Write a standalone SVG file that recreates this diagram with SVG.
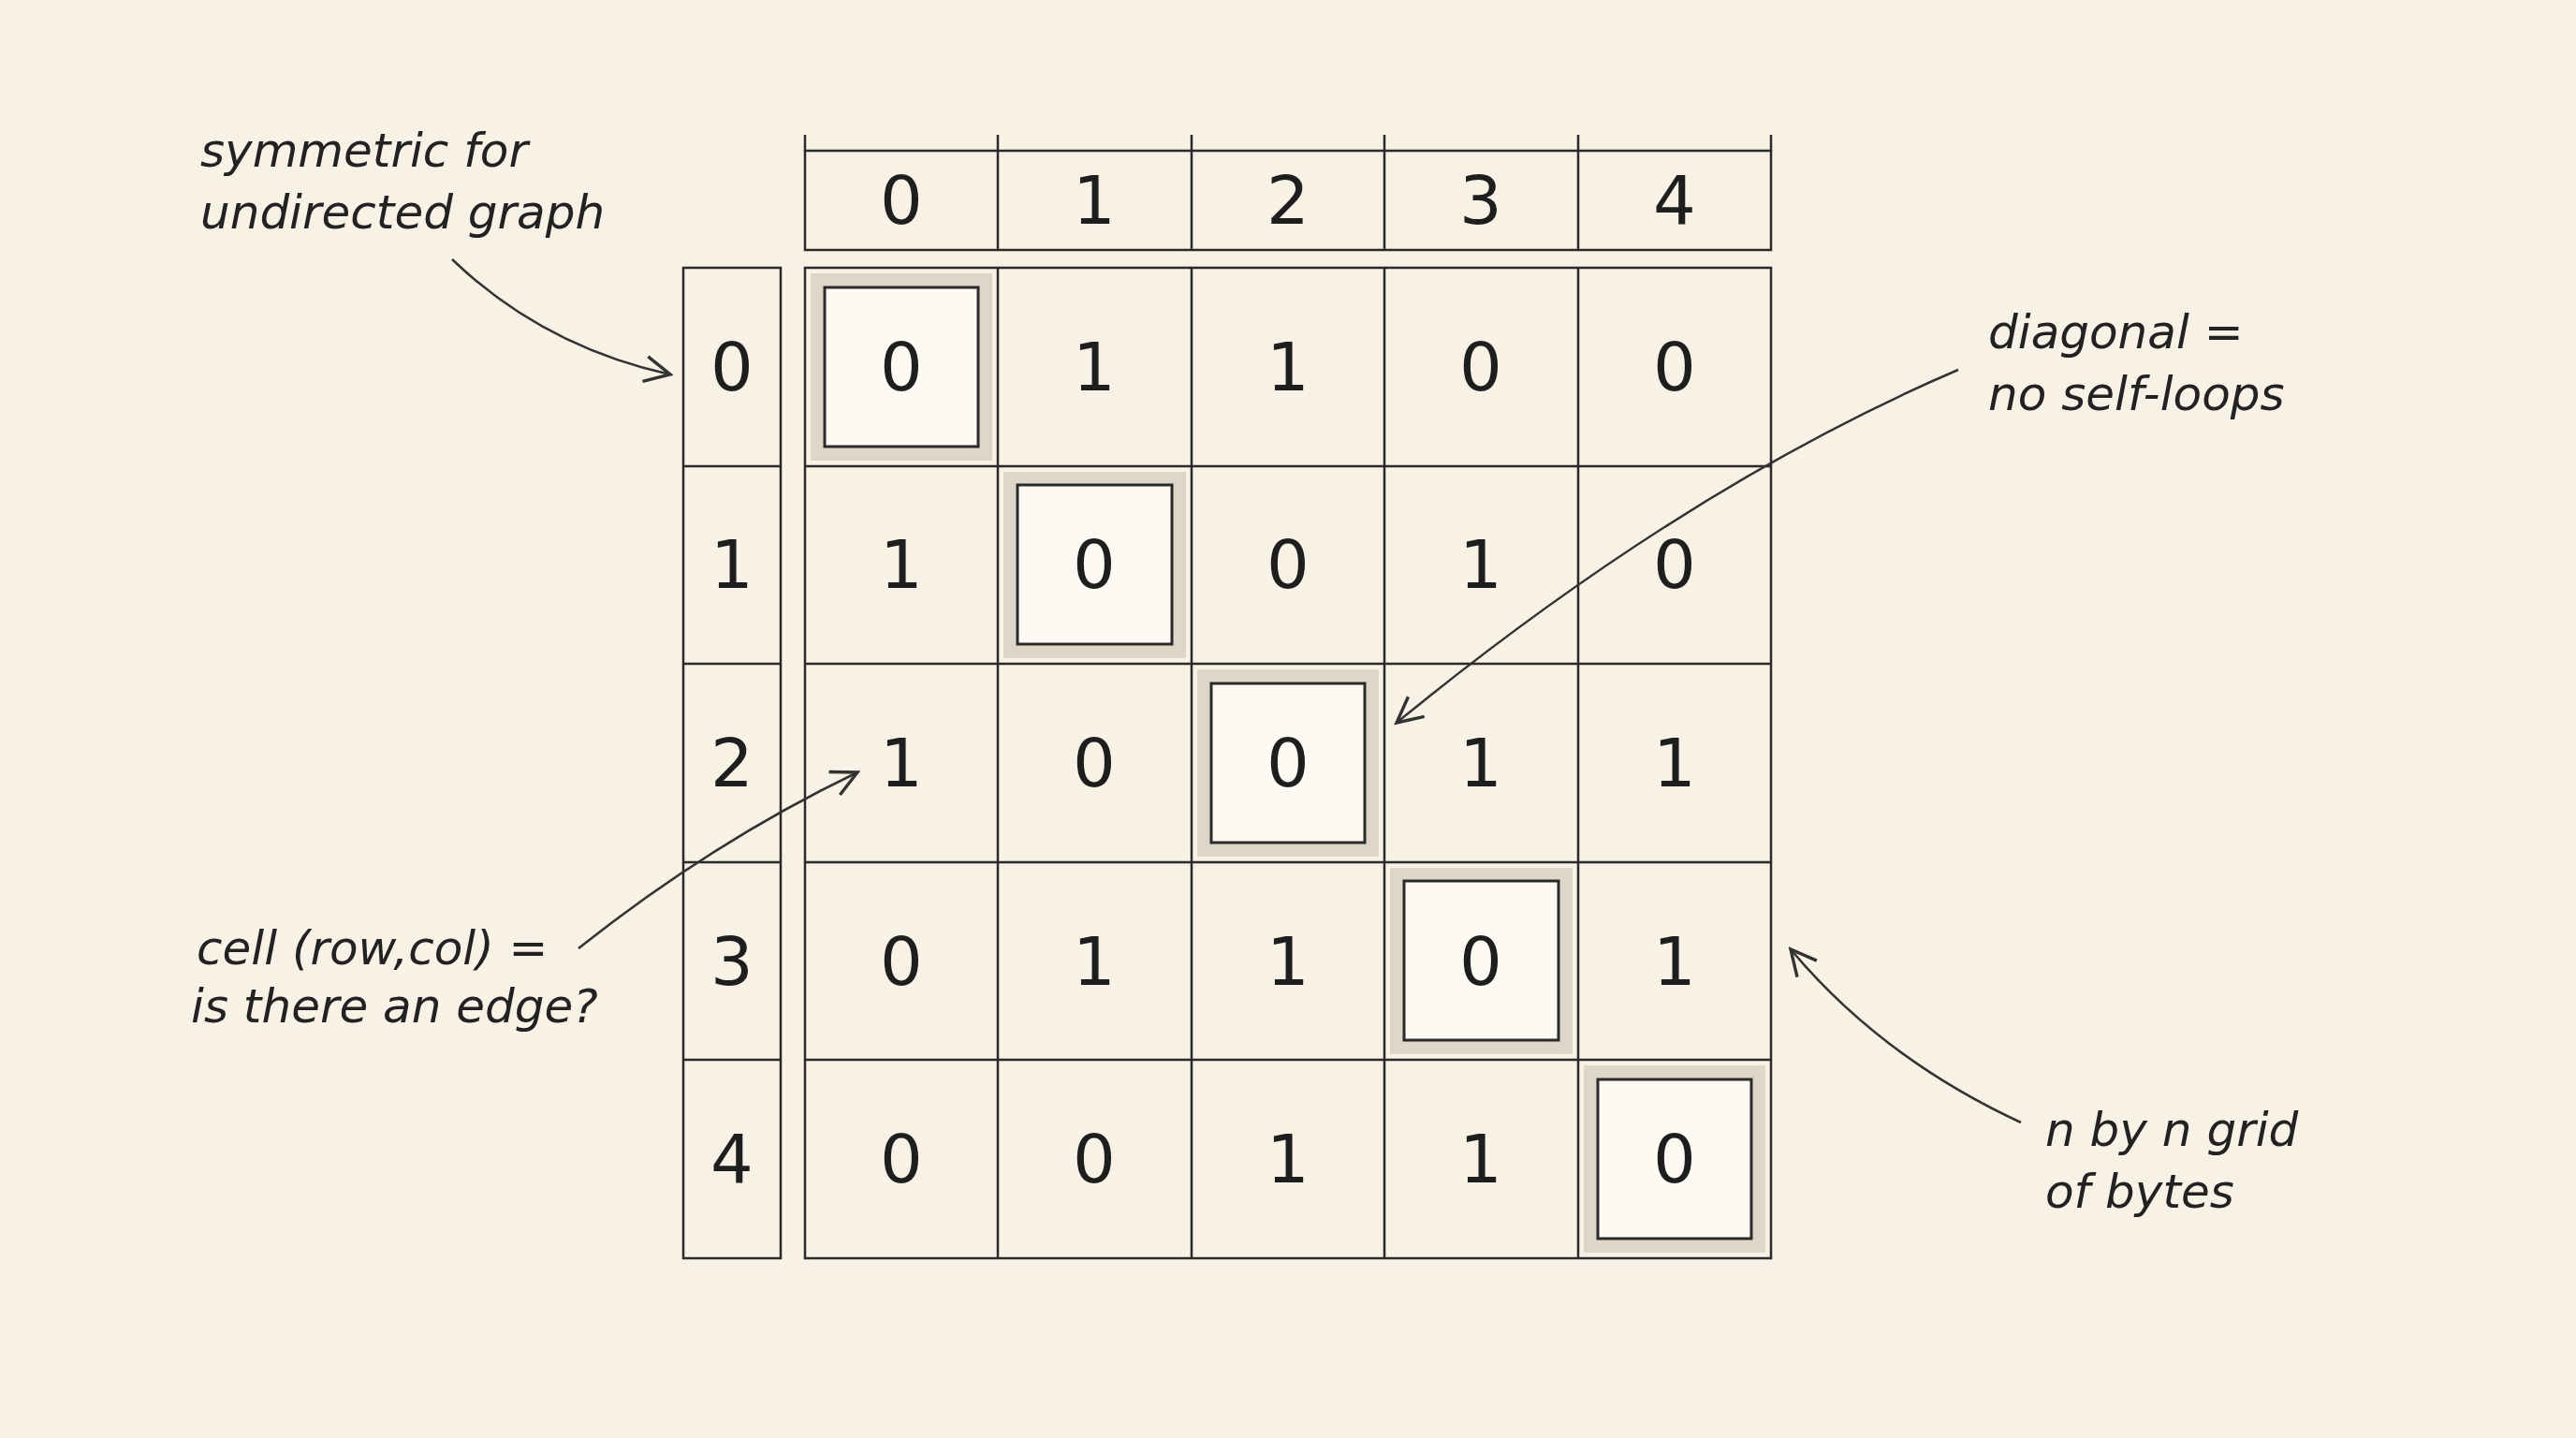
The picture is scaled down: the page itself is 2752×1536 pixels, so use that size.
<svg xmlns="http://www.w3.org/2000/svg" width="2752" height="1536" viewBox="0 0 2752 1536">
<defs>
<style>
.ln{stroke:#2a2a2a;stroke-width:2.5;fill:none}
.d{font-family:"DejaVu Sans",sans-serif;font-size:72px;fill:#1e1e1e;text-anchor:middle;dominant-baseline:central}
.a{font-family:"DejaVu Sans",sans-serif;font-size:50px;fill:#222;font-style:italic}
.ar{stroke:#333;stroke-width:2.5;fill:none;marker-end:url(#h)}
.hl{fill:#fcfaf3;stroke:#2a2a2a;stroke-width:3}
.sh{fill:#d6cebd;opacity:.75}
</style>
<marker id="h" viewBox="0 0 20 20" refX="18" refY="10" markerWidth="34" markerHeight="34" markerUnits="userSpaceOnUse" orient="auto"><path d="M2 2 L18 10 L2 18" fill="none" stroke="#333" stroke-width="2"/></marker>
</defs>
<rect width="2752" height="1536" fill="#f7f2e5"/>
<g id="header">
<rect x="860" y="161" width="1032" height="106" class="ln"/>
<path class="ln" d="M1066 144V267M1273 144V267M1479 144V267M1686 144V267M860 144V161M1892 144V161"/>
<text class="d" x="963" y="214">0</text><text class="d" x="1169" y="214">1</text><text class="d" x="1376" y="214">2</text><text class="d" x="1582" y="214">3</text><text class="d" x="1789" y="214">4</text>
</g>
<g id="rowheader">
<rect x="730" y="286" width="104" height="1058" class="ln"/>
<path class="ln" d="M730 498H834M730 709H834M730 921H834M730 1132H834"/>
<text class="d" x="782" y="392">0</text><text class="d" x="782" y="603">1</text><text class="d" x="782" y="815">2</text><text class="d" x="782" y="1027">3</text><text class="d" x="782" y="1238">4</text>
</g>
<g id="diag">
<rect class="sh" x="866" y="292" width="194" height="200"/><rect class="hl" x="881" y="307" width="164" height="170"/>
<rect class="sh" x="1072" y="504" width="195" height="199"/><rect class="hl" x="1087" y="518" width="165" height="170"/>
<rect class="sh" x="1279" y="715" width="194" height="200"/><rect class="hl" x="1294" y="730" width="164" height="170"/>
<rect class="sh" x="1485" y="927" width="195" height="199"/><rect class="hl" x="1500" y="941" width="165" height="170"/>
<rect class="sh" x="1692" y="1138" width="194" height="200"/><rect class="hl" x="1707" y="1153" width="164" height="170"/>
</g>
<g id="grid">
<rect x="860" y="286" width="1032" height="1058" class="ln"/>
<path class="ln" d="M1066 286V1344M1273 286V1344M1479 286V1344M1686 286V1344M860 498H1892M860 709H1892M860 921H1892M860 1132H1892"/>
<text class="d" x="963" y="392">0</text><text class="d" x="1169" y="392">1</text><text class="d" x="1376" y="392">1</text><text class="d" x="1582" y="392">0</text><text class="d" x="1789" y="392">0</text>
<text class="d" x="963" y="603">1</text><text class="d" x="1169" y="603">0</text><text class="d" x="1376" y="603">0</text><text class="d" x="1582" y="603">1</text><text class="d" x="1789" y="603">0</text>
<text class="d" x="963" y="815">1</text><text class="d" x="1169" y="815">0</text><text class="d" x="1376" y="815">0</text><text class="d" x="1582" y="815">1</text><text class="d" x="1789" y="815">1</text>
<text class="d" x="963" y="1027">0</text><text class="d" x="1169" y="1027">1</text><text class="d" x="1376" y="1027">1</text><text class="d" x="1582" y="1027">0</text><text class="d" x="1789" y="1027">1</text>
<text class="d" x="963" y="1238">0</text><text class="d" x="1169" y="1238">0</text><text class="d" x="1376" y="1238">1</text><text class="d" x="1582" y="1238">1</text><text class="d" x="1789" y="1238">0</text>
</g>
<g id="labels">
<text class="a" x="214" y="178">symmetric for</text><text class="a" x="214" y="244">undirected graph</text>
<text class="a" x="2124" y="372">diagonal =</text><text class="a" x="2124" y="438">no self-loops</text>
<text class="a" x="210" y="1030">cell (row,col) =</text><text class="a" x="204" y="1092">is there an edge?</text>
<text class="a" x="2185" y="1224">n by n grid</text><text class="a" x="2185" y="1290">of bytes</text>
</g>
<g id="connectors">
<path class="ar" d="M483 277 Q580 370 716 400"/>
<path class="ar" d="M2092 395 Q1800 520 1492 772"/>
<path class="ar" d="M618 1013 Q760 900 916 825"/>
<path class="ar" d="M2159 1199 Q2010 1130 1913 1014"/>
</g>
</svg>
